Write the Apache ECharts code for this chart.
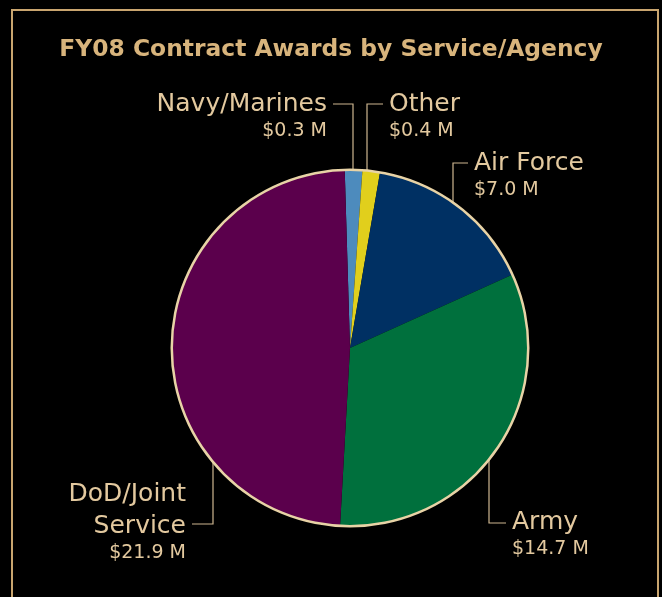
<!DOCTYPE html>
<html>
<head>
<meta charset="utf-8">
<script src="https://cdn.jsdelivr.net/npm/echarts@6/dist/echarts.min.js"></script>
<style>
  html, body { margin: 0; padding: 0; background: #000; }
  #chart { width: 662px; height: 597px; }
</style>
</head>
<body>
<div id="chart"></div>
<script>
// data
let agencies = ['Navy/Marines', 'Other', 'Air Force', 'Army', 'DoD/Joint\nService'];
let awards = [0.3, 0.4, 7.0, 14.7, 21.9];   // $ M
let sliceColors = ['#4d8bbd', '#e1cf1c', '#003063', '#00703d', '#5b004c'];

// pie geometry
let cx = 350, cy = 348, r = 178;
let tan = '#e3c99f';

// leader line + label placement per slice:
// ax = where the line leaves the rim, ey = elbow height, ex = line end, ly = top of label block
let guides = [
    { ax: 353, top: true,  ey: 104, ex: 333, ly: 88,  align: 'right' },
    { ax: 367, top: true,  ey: 104, ex: 383, ly: 88,  align: 'left' },
    { ax: 453, top: true,  ey: 163, ex: 468, ly: 147, align: 'left' },
    { ax: 489, top: false, ey: 523, ex: 506, ly: 506, align: 'left' },
    { ax: 213, top: false, ey: 524, ex: 192, ly: 478, align: 'right' }
];

let myChart = echarts.init(document.getElementById('chart'));

let option = {
    backgroundColor: '#000',
    animation: false,
    title: {
        text: 'FY08 Contract Awards by Service/Agency',
        left: 326,
        textAlign: 'center',
        top: 33,
        textStyle: {
            color: '#d8b47c',
            fontFamily: 'DejaVu Sans',
            fontWeight: 'bold',
            fontSize: 23.4
        }
    },
    graphic: [{
        type: 'rect',
        shape: { x: 12, y: 10, width: 646, height: 620 },
        style: { fill: 'none', stroke: '#c9a56f', lineWidth: 2 },
        silent: true
    }],
    series: [{
        type: 'pie',
        center: [cx, cy],
        radius: [0, r],
        startAngle: 91.7,
        clockwise: true,
        minAngle: 5.7,
        avoidLabelOverlap: false,
        itemStyle: { borderWidth: 0 },
        data: agencies.map((n, i) => ({ name: n, value: awards[i], itemStyle: { color: sliceColors[i] } })),
        label: {
            show: true,
            position: 'outside',
            color: tan,
            fontFamily: 'DejaVu Sans',
            formatter: p => '{n|' + p.name.split('\n').join('}\n{n|') + '}\n{v|$' + p.value.toFixed(1) + ' M}',
            rich: {
                n: { fontSize: 25, lineHeight: 32, color: tan, fontFamily: 'DejaVu Sans' },
                v: { fontSize: 19, lineHeight: 23, color: tan, fontFamily: 'DejaVu Sans' }
            }
        },
        labelLine: {
            show: true,
            lineStyle: { color: '#cdb690', width: 1.2 }
        },
        labelLayout: function (params) {
            let g = guides[params.dataIndex];
            let dx = g.ax - cx;
            let dy = Math.sqrt(r * r - dx * dx);
            let ay = g.top ? cy - dy : cy + dy;
            return {
                x: g.ex + (g.align === 'right' ? -6 : 6),
                y: g.ly,
                align: g.align,
                verticalAlign: 'top',
                labelLinePoints: [[g.ax, ay], [g.ax, g.ey], [g.ex, g.ey]]
            };
        }
    }, {
        // thin rim round the pie
        type: 'pie',
        center: [cx, cy],
        radius: [r - 1, r + 1.5],
        silent: true,
        label: { show: false },
        labelLine: { show: false },
        itemStyle: { color: '#e8d3a6' },
        data: [1]
    }]
};

myChart.setOption(option);
</script>
</body>
</html>
